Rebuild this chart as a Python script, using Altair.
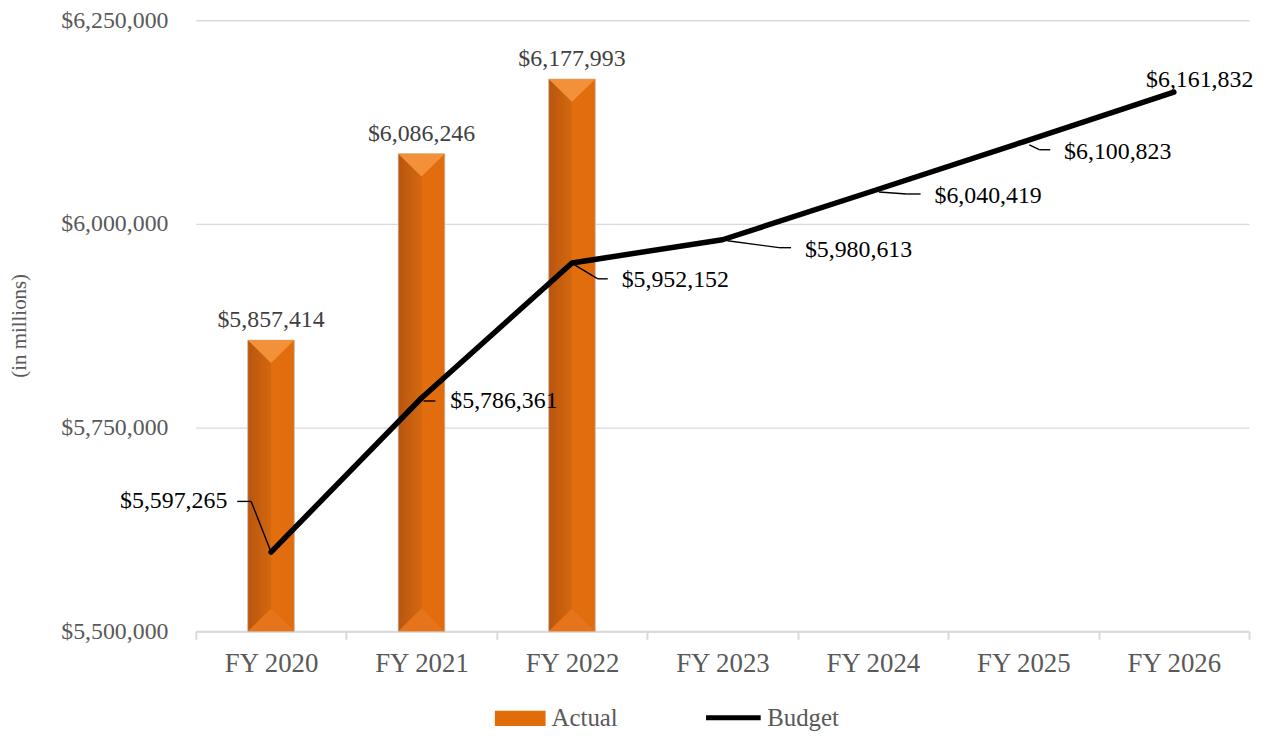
import altair as alt
import pandas as pd

# ---- data ----
years = ["FY 2020", "FY 2021", "FY 2022", "FY 2023", "FY 2024", "FY 2025", "FY 2026"]
actual = [5857414, 6086246, 6177993]
budget = [5597265, 5786361, 5952152, 5980613, 6040419, 6100823, 6161832]
y_ticks = [5500000, 5750000, 6000000, 6250000]

actual_df = pd.DataFrame({"year": years[:len(actual)], "value": actual,
                          "base": y_ticks[0], "s1": "Actual"})
budget_df = pd.DataFrame({"year": years, "value": budget, "s2": "Budget"})

# ---- style ----
FONT = "Liberation Serif"
GRAY = "#595959"
LIGHT = "#d9d9d9"
BAR_W = 47

# leader line / label offsets in pixels relative to each budget point:
# (seg1 start, elbow, end-of-horizontal, text dx, text dy, align)
leaders = [
    ((0, 0), (-20, -51), -34, -44, -51, "right"),
    ((2, 3), (2, 3), 14, 29, 3, "left"),
    ((1, 1), (26, 16), 36, 50, 17, "left"),
    ((5, 1), (57, 8), 69, 83, 10, "left"),
    ((6, 1), (34, 3), 48, 62, 5, "left"),
    ((6, 3), (16, 8), 27, 41, 10, "left"),
    (None, None, None, 26, -12, "center"),
]

x_axis = alt.Axis(title=None, labelAngle=0, domainColor=LIGHT, domainWidth=2,
                  tickColor=LIGHT, tickWidth=2, tickSize=8, tickBand="extent",
                  labelFont=FONT, labelFontSize=27, labelColor=GRAY,
                  labelPadding=11, grid=False)
x_scale = alt.Scale(domain=years, paddingInner=0, paddingOuter=0)
X = alt.X("year:N", sort=years, scale=x_scale, axis=x_axis)

y_axis = alt.Axis(values=y_ticks, format="$,.0f", grid=True, gridColor=LIGHT,
                  gridWidth=1.3, domain=False, ticks=False, labelFont=FONT,
                  labelFontSize=24, labelColor=GRAY, labelPadding=28,
                  title="(in millions)", titleFont=FONT, titleFontSize=21,
                  titleColor=GRAY, titleFontWeight="normal", titleX=-177,
                  titleY=307, titleAngle=270, titleAlign="center",
                  titleBaseline="middle")
y_scale = alt.Scale(domain=[y_ticks[0], y_ticks[-1]], nice=False, zero=False)
Y = alt.Y("value:Q", scale=y_scale, axis=y_axis)
Y2 = alt.Y2("base:Q")

gradient = alt.LinearGradient(
    gradient="linear",
    stops=[alt.GradientStop(offset=0, color="#B8550E"),
           alt.GradientStop(offset=0.5, color="#D3680F"),
           alt.GradientStop(offset=0.5, color="#E36E0E"),
           alt.GradientStop(offset=1, color="#E06C0D")],
    x1=0, x2=1, y1=0, y2=0)

bars_legend = alt.Chart(actual_df).mark_bar(size=BAR_W).encode(
    x=X, y=Y, y2=Y2,
    fill=alt.Fill("s1:N", scale=alt.Scale(domain=["Actual"], range=["#E36C0A"]),
                  legend=alt.Legend(title=None, orient="none", legendX=301,
                                    legendY=677, padding=0,
                                    symbolType="M-1,-0.3L1,-0.3L1,0.3L-1,0.3Z",
                                    symbolSize=2601, symbolStrokeWidth=0,
                                    symbolOpacity=1,
                                    labelFont=FONT, labelFontSize=25,
                                    labelColor=GRAY, labelOffset=6)),
)
bars = alt.Chart(actual_df).mark_bar(size=BAR_W, color=gradient,
                                     stroke="#cfcfcf", strokeWidth=0.8).encode(
    x=X, y=Y, y2=Y2)
top_tri = alt.Chart(actual_df).mark_point(
    shape="M-1,-1L1,-1L0,-0.02Z", size=BAR_W * BAR_W, filled=True,
    fill="#F2913A", opacity=1, strokeWidth=0, yOffset=BAR_W / 2).encode(x=X, y=Y)
bot_tri = alt.Chart(actual_df).mark_point(
    shape="M-1,1L1,1L0,0.02Z", size=BAR_W * BAR_W, filled=True,
    fill="#E5741A", opacity=1, strokeWidth=0, yOffset=-BAR_W / 2).encode(
    x=X, y=alt.Y("base:Q", scale=y_scale, axis=y_axis))

bar_labels = alt.Chart(actual_df).mark_text(
    font=FONT, fontSize=24, color="#404040", dy=-20, baseline="middle").encode(
    x=X, y=Y, text=alt.Text("value:Q", format="$,.0f"))

line = alt.Chart(budget_df).mark_line(strokeWidth=5.5, strokeCap="round",
                                      strokeJoin="round").encode(
    x=X, y=Y,
    stroke=alt.Stroke("s2:N", scale=alt.Scale(domain=["Budget"], range=["black"]),
                      legend=alt.Legend(title=None, orient="none", legendX=511,
                                        legendY=672, padding=0, symbolType="stroke",
                                        symbolSize=3025, symbolStrokeWidth=5,
                                        labelFont=FONT, labelFontSize=25,
                                        labelColor=GRAY, labelOffset=4)),
)

layers = [bars_legend, bars, top_tri, bot_tri, line]
for i, (start, elbow, hend, tdx, tdy, align) in enumerate(leaders):
    one = alt.Chart(budget_df.iloc[[i]])
    if start is not None:
        if start != elbow:
            layers.append(one.mark_rule(color="black", strokeWidth=1.4,
                                        xOffset=start[0], yOffset=start[1],
                                        x2Offset=elbow[0], y2Offset=elbow[1]).encode(
                x=X, x2="year", y=Y, y2="value"))
        layers.append(one.mark_rule(color="black", strokeWidth=1.4,
                                    xOffset=elbow[0], yOffset=elbow[1],
                                    x2Offset=hend, y2Offset=elbow[1]).encode(
            x=X, x2="year", y=Y, y2="value"))
    layers.append(one.mark_text(font=FONT, fontSize=24, color="black", dx=tdx,
                                dy=tdy, align=align, baseline="middle").encode(
        x=X, y=Y, text=alt.Text("value:Q", format="$,.0f")))
layers.append(bar_labels)

chart = alt.layer(*layers).resolve_legend(fill="independent", stroke="independent").properties(
    width=1060, height=615,
    autosize=alt.AutoSizeParams(type="none"),
    padding={"left": 189, "top": 10, "right": 13, "bottom": 101},
).configure_view(stroke=None)

chart.save("out.html", embed_options={"renderer": "svg", "actions": False})
